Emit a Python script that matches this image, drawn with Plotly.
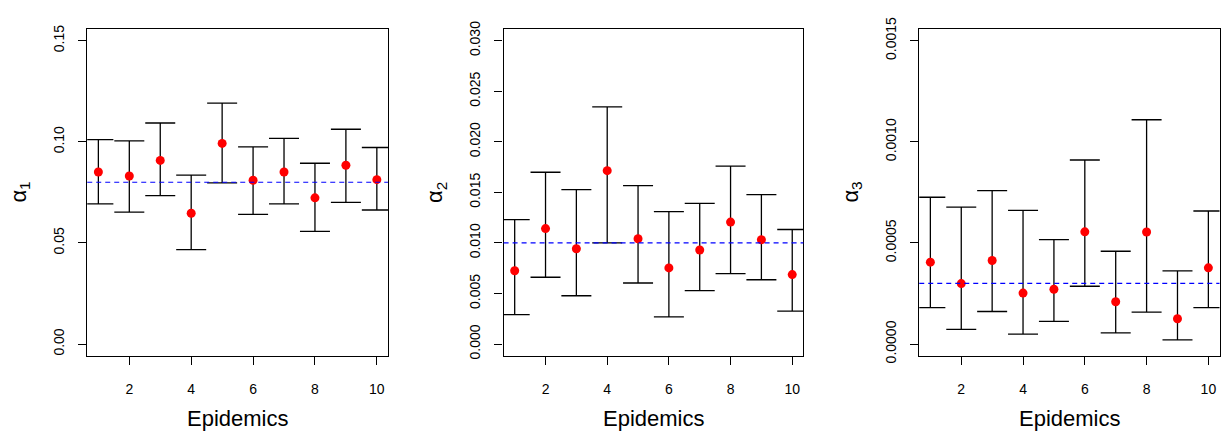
import plotly.graph_objects as go

epidemics = [1, 2, 3, 4, 5, 6, 7, 8, 9, 10]

alpha1_est = [0.0851, 0.0831, 0.0908, 0.0647, 0.0992, 0.0810, 0.0851, 0.0723, 0.0884, 0.0813]
alpha1_low = [0.0693, 0.0652, 0.0734, 0.0467, 0.0797, 0.0641, 0.0693, 0.0557, 0.0701, 0.0663]
alpha1_up = [0.1011, 0.1005, 0.1093, 0.0835, 0.1191, 0.0975, 0.1017, 0.0894, 0.1062, 0.0972]
alpha1_true = 0.08

alpha2_est = [0.00725, 0.01142, 0.00943, 0.01715, 0.01041, 0.00753, 0.00930, 0.01206, 0.01032, 0.00687]
alpha2_low = [0.00291, 0.00661, 0.00478, 0.01000, 0.00604, 0.00269, 0.00528, 0.00696, 0.00636, 0.00326]
alpha2_up = [0.01231, 0.01699, 0.01528, 0.02345, 0.01566, 0.01310, 0.01392, 0.01760, 0.01478, 0.01133]
alpha2_true = 0.010

alpha3_est = [0.000405, 0.000299, 0.000413, 0.000252, 0.000271, 0.000555, 0.000209, 0.000554, 0.000125, 0.000377]
alpha3_low = [0.000180, 0.0000728, 0.000161, 0.000049, 0.000112, 0.000286, 0.0000554, 0.000158, 0.0000206, 0.000180]
alpha3_up = [0.000726, 0.000677, 0.000759, 0.000661, 0.000516, 0.000910, 0.000459, 0.001109, 0.000362, 0.000658]
alpha3_true = 0.0003

x_ticks = [2, 4, 6, 8, 10]
y1_ticks = [0.0, 0.05, 0.10, 0.15]
y1_labels = ["0.00", "0.05", "0.10", "0.15"]
y2_ticks = [0.0, 0.005, 0.010, 0.015, 0.020, 0.025, 0.030]
y2_labels = ["0.000", "0.005", "0.010", "0.015", "0.020", "0.025", "0.030"]
y3_ticks = [0.0, 0.0005, 0.0010, 0.0015]
y3_labels = ["0.0000", "0.0005", "0.0010", "0.0015"]

y_titles = ["α<sub>1</sub>", "α<sub>2</sub>", "α<sub>3</sub>"]
x_title = "Epidemics"

W, H = 1221, 438
FONT = "Liberation Sans, Arial, sans-serif"

panels = [
    (alpha1_est, alpha1_low, alpha1_up, alpha1_true, y1_ticks, y1_labels, 0.15),
    (alpha2_est, alpha2_low, alpha2_up, alpha2_true, y2_ticks, y2_labels, 0.030),
    (alpha3_est, alpha3_low, alpha3_up, alpha3_true, y3_ticks, y3_labels, 0.0015),
]

# pixel boxes of the plotting regions
x_px = [(87.3, 388.3), (504.0, 804.0), (920.0, 1220.5)]
y_px = (18.3, 360.0)

fig = go.Figure()
layout = dict(
    width=W, height=H,
    margin=dict(l=0, r=0, t=0, b=0),
    paper_bgcolor="white", plot_bgcolor="white",
    showlegend=False,
    font=dict(family=FONT, color="black", size=14),
)
annotations = []
shapes = []

for i, (est, low, up, true, yt, yl, ymax) in enumerate(panels):
    k = "" if i == 0 else str(i + 1)
    xa, ya = "x" + k, "y" + k
    err_plus = [u - e for u, e in zip(up, est)]
    err_minus = [e - l for e, l in zip(est, low)]
    fig.add_trace(go.Scatter(
        x=epidemics, y=est, mode="markers",
        marker=dict(color="#ff0000", size=9),
        error_y=dict(type="data", symmetric=False, array=err_plus, arrayminus=err_minus,
                     color="black", thickness=1.3, width=15),
        xaxis=xa, yaxis=ya,
    ))
    shapes.append(dict(type="line", xref=xa + " domain", x0=0, x1=1, yref=ya, y0=true, y1=true,
                       line=dict(color="#0000ff", width=1.2, dash="5px,4px"), layer="above"))
    xr = (1 - 0.04 * 9, 10 + 0.04 * 9)
    yr = (-0.04 * ymax, ymax * 1.04)
    dom_x = [x_px[i][0] / W, x_px[i][1] / W]
    dom_y = [1 - y_px[1] / H, 1 - y_px[0] / H]
    layout["xaxis" + k] = dict(
        domain=dom_x, range=list(xr), anchor=ya,
        tickmode="array", tickvals=x_ticks, ticktext=[str(v) for v in x_ticks],
        ticks="outside", ticklen=8, tickwidth=1, tickcolor="black",
        showline=True, mirror=True, linecolor="black", linewidth=1.2,
        showgrid=False, zeroline=False, tickfont=dict(size=14, family=FONT),
        ticklabelstandoff=12,
    )
    layout["yaxis" + k] = dict(
        domain=dom_y, range=list(yr), anchor=xa,
        tickmode="array", tickvals=yt, ticktext=yl, tickangle=-90,
        ticks="outside", ticklen=8, tickwidth=1, tickcolor="black",
        showline=True, mirror=True, linecolor="black", linewidth=1.2,
        showgrid=False, zeroline=False, tickfont=dict(size=14, family=FONT),
        ticklabelstandoff=9,
    )
    annotations.append(dict(text=y_titles[i], xref=xa + " domain", yref=ya + " domain",
                            x=0, y=0.5, xanchor="center", yanchor="middle", xshift=-67,
                            textangle=-90, showarrow=False, font=dict(size=22, family=FONT)))
    annotations.append(dict(text=x_title, xref=xa + " domain", yref=ya + " domain",
                            x=0.5, y=0, xanchor="center", yanchor="middle", yshift=-62,
                            showarrow=False, font=dict(size=22, family=FONT)))

layout["annotations"] = annotations
layout["shapes"] = shapes
fig.update_layout(**layout)
fig.write_html("out.html")
